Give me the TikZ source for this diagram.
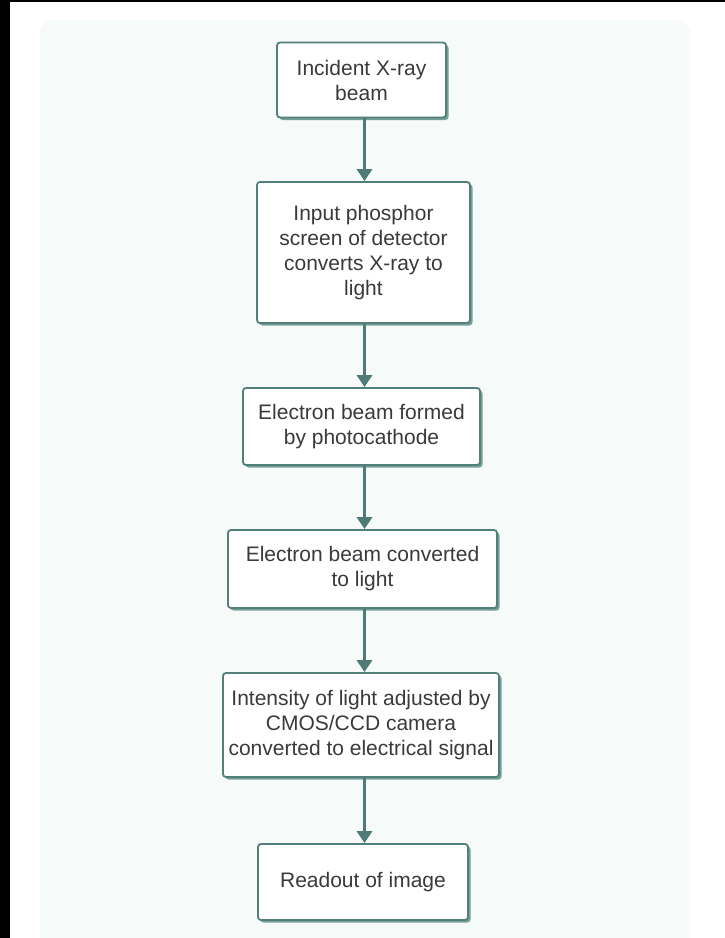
\documentclass[tikz,border=0pt]{standalone}
\usepackage{fontspec}
\setmainfont{Liberation Sans}
\usetikzlibrary{shadows,arrows.meta}
\definecolor{panel}{HTML}{F6FAF8}
\definecolor{edge}{HTML}{527F7A}
\definecolor{shade}{HTML}{76A09A}
\definecolor{txt}{HTML}{3A3A3A}
\definecolor{arr}{HTML}{4E7B75}
\begin{document}
\begin{tikzpicture}[x=1pt,y=-1pt,
  box/.style={draw=edge, line width=1.8pt, fill=white, rounded corners=3pt,
    drop shadow={shadow xshift=2.5pt, shadow yshift=-2.5pt, fill=shade, opacity=1},
    align=center, font=\fontsize{21}{25}\selectfont, text=txt, inner sep=0pt},
  flow/.style={draw=arr, line width=3pt, -{Triangle[length=12pt,width=15pt]}}]
\useasboundingbox (0,0) rectangle (725,938);
\begin{scope}
\clip (0,0) rectangle (725,938);
\fill[white] (0,0) rectangle (725,938);
\fill[panel, rounded corners=14pt] (40,20) rectangle (690,960);
\fill[black] (0,0) rectangle (725,2);
\fill[black] (0,0) rectangle (10,938);
\end{scope}
\node[box, minimum width=169pt, minimum height=75pt] (b1) at (361.5,80) {Incident X-ray\\beam};
\node[box, minimum width=213pt, minimum height=141pt] (b2) at (363.5,252.5) {Input phosphor\\screen of detector\\converts X-ray to\\light};
\node[box, minimum width=237pt, minimum height=77pt] (b3) at (361.5,426.5) {Electron beam formed\\by photocathode};
\node[box, minimum width=269pt, minimum height=78pt] (b4) at (362.5,569) {Electron beam converted\\to light};
\node[box, minimum width=276pt, minimum height=104pt] (b5) at (361,725) {Intensity of light adjusted by\\CMOS/CCD camera\\converted to electrical signal};
\node[box, minimum width=210pt, minimum height=76pt] (b6) at (363,882) {Readout of image};
\coordinate (x) at (364.5,0);
\draw[flow] (b1.south -| x) -- (b2.north -| x);
\draw[flow] (b2.south -| x) -- (b3.north -| x);
\draw[flow] (b3.south -| x) -- (b4.north -| x);
\draw[flow] (b4.south -| x) -- (b5.north -| x);
\draw[flow] (b5.south -| x) -- (b6.north -| x);
\end{tikzpicture}
\end{document}
